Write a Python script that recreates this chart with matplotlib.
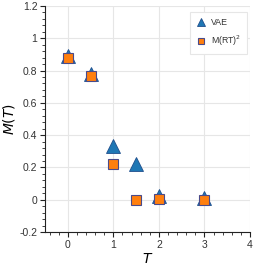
import matplotlib
matplotlib.use("Agg")
import matplotlib.pyplot as plt
from matplotlib.ticker import MultipleLocator, FixedLocator

T = [0, 0.5, 1, 1.5, 2, 3]
vae = [0.89, 0.78, 0.33, 0.22, 0.025, 0.01]
mrt2 = [0.88, 0.765, 0.22, 0.0, 0.005, 0.0]
xticks = [0, 1, 2, 3, 4]
yticks = [-0.2, 0, 0.2, 0.4, 0.6, 0.8, 1, 1.2]
ytick_labels = ["-0.2", "0", "0.2", "0.4", "0.6", "0.8", "1", "1.2"]

plt.rcParams['font.family'] = ['Liberation Sans', 'DejaVu Sans']
fig = plt.figure(figsize=(2.66, 2.69), dpi=100)
ax = fig.add_axes([45/266, 1 - 232/269, 205/266, 226/269])

ax.plot(T, vae, linestyle='none', marker='^', markersize=10, color='#1f77b4',
        markeredgecolor='#1f4e8c', markeredgewidth=0.6, label='VAE', zorder=3)
ax.plot(T, mrt2, linestyle='none', marker='s', markersize=7, color='#ff7f0e',
        markeredgecolor='#4a4a8a', markeredgewidth=0.8, label='M(RT)$^2$', zorder=4)

ax.set_xlim(-0.5, 4)
ax.set_ylim(-0.2, 1.2)
ax.xaxis.set_major_locator(FixedLocator(xticks))
ax.yaxis.set_major_locator(FixedLocator(yticks))
ax.set_yticklabels(ytick_labels)
ax.xaxis.set_minor_locator(MultipleLocator(0.2))
ax.yaxis.set_minor_locator(MultipleLocator(0.04))
ax.grid(True, which='major', color='#e6e6e6', linewidth=0.8, zorder=0)
ax.set_axisbelow(True)
for s in ['top', 'right']:
    ax.spines[s].set_visible(False)
for s in ['left', 'bottom']:
    ax.spines[s].set_color('#222222')
    ax.spines[s].set_linewidth(0.8)
ax.tick_params(which='major', direction='out', length=3.5, width=0.8, color='#222222',
               labelsize=7.5, labelcolor='#333333', pad=2)
ax.tick_params(which='minor', direction='out', length=2, width=0.6, color='#222222')
ax.set_xlabel('$T$', fontsize=10, labelpad=2)
ax.set_ylabel('$M(T)$', fontsize=10, labelpad=2)

leg = ax.legend(loc='upper right', fontsize=6.3, markerscale=0.55, frameon=True,
                handletextpad=0.5, borderpad=0.7, labelspacing=0.75, handlelength=1.2,
                borderaxespad=0, bbox_to_anchor=(0.985, 0.975))
leg.get_frame().set_edgecolor('#e6e6e6')
leg.get_frame().set_linewidth(0.8)
leg.get_frame().set_alpha(1)
leg.get_frame().set_boxstyle('square', pad=0)
for t in leg.get_texts():
    t.set_color('#333333')

fig.savefig('out.png', dpi=100)
